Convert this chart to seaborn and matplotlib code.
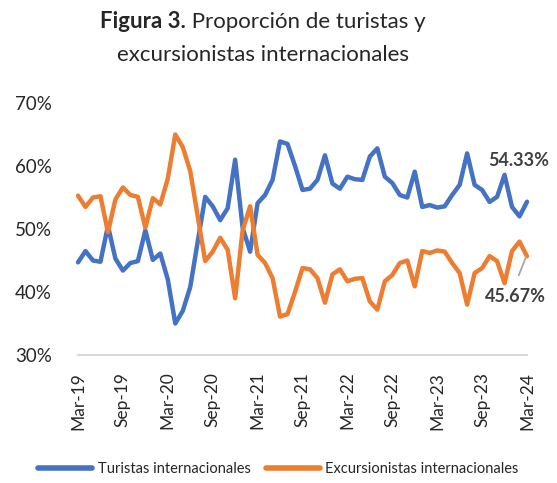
import numpy as np
import pandas as pd
import seaborn as sns
import matplotlib
matplotlib.use('Agg')
import matplotlib.pyplot as plt
from matplotlib.transforms import ScaledTranslation

# monthly shares, Mar-19 .. Mar-24
turistas = [44.7, 46.5, 45.0, 44.8, 50.5, 45.3, 43.4, 44.6, 44.9, 49.8,
            45.1, 46.1, 42.0, 35.0, 37.0, 40.8, 48.0, 55.1, 53.6, 51.4,
            53.3, 61.0, 50.2, 46.4, 54.1, 55.4, 57.8, 63.9, 63.5, 60.0,
            56.2, 56.4, 57.8, 61.7, 57.2, 56.4, 58.3, 57.9, 57.8, 61.5,
            62.8, 58.3, 57.3, 55.4, 55.0, 59.1, 53.5, 53.8, 53.4, 53.6,
            55.4, 57.0, 62.0, 57.0, 56.2, 54.3, 55.1, 58.6, 53.5, 52.0,
            54.33]
excursionistas = [55.3, 53.5, 55.0, 55.2, 49.5, 54.7, 56.6, 55.4, 55.1, 50.2,
                  54.9, 53.9, 58.0, 65.0, 63.0, 59.2, 52.0, 44.9, 46.4, 48.6,
                  46.7, 39.0, 49.8, 53.6, 45.9, 44.6, 42.2, 36.1, 36.5, 40.0,
                  43.8, 43.6, 42.2, 38.3, 42.8, 43.6, 41.7, 42.1, 42.2, 38.5,
                  37.2, 41.7, 42.7, 44.6, 45.0, 40.9, 46.5, 46.2, 46.6, 46.4,
                  44.6, 43.0, 38.0, 43.0, 43.8, 45.7, 44.9, 41.4, 46.5, 48.0,
                  45.67]
tick_labels = ['Mar-19', 'Sep-19', 'Mar-20', 'Sep-20', 'Mar-21', 'Sep-21',
               'Mar-22', 'Sep-22', 'Mar-23', 'Sep-23', 'Mar-24']
series_names = ['Turistas internacionales', 'Excursionistas internacionales']

n = len(turistas)
df = pd.DataFrame({
    'mes': list(range(n)) * 2,
    'valor': np.array(turistas + excursionistas) / 100.0,
    'serie': [series_names[0]] * n + [series_names[1]] * n,
})

sns.set_style('white')
plt.rcParams['font.family'] = ['Lato', 'DejaVu Sans']

fig = plt.figure(figsize=(5.57, 4.83), dpi=100)
ax = fig.add_axes([78/557, 1 - 355/483, (527-78)/557, (355-103)/483])

sns.lineplot(data=df, x='mes', y='valor', hue='serie',
             palette=['#4472C4', '#ED7D31'], linewidth=3.2, ax=ax,
             legend=True)
for ln in ax.lines:
    ln.set_solid_capstyle('round')
    ln.set_solid_joinstyle('round')
    ln.set_clip_on(False)

ax.set_xlim(0, n - 1)
ax.set_ylim(0.30, 0.70)
ax.set_yticks([0.3, 0.4, 0.5, 0.6, 0.7])
ax.set_yticklabels(['30%', '40%', '50%', '60%', '70%'], fontsize=13.5, color='#262626')
ax.set_xticks(list(range(0, n, 6)))
ax.set_xticklabels(tick_labels, rotation=90, fontsize=12.5, color='#262626')
offset = ScaledTranslation(6/72, 0, fig.dpi_scale_trans)
for lab in ax.get_xticklabels():
    lab.set_transform(lab.get_transform() + offset)
ax.tick_params(axis='y', length=0, pad=19)
ax.tick_params(axis='x', length=0, pad=12)
ax.set_xlabel('')
ax.set_ylabel('')
sns.despine(ax=ax, left=True)
ax.spines['bottom'].set_color('#d9d9d9')
ax.spines['bottom'].set_linewidth(1.5)

# end labels
fig.text(519/557, 1 - 161/483, '54.33%', ha='center', va='center',
         fontsize=13, fontweight='bold', color='#404040')
fig.text(515/557, 1 - 297/483, '45.67%', ha='center', va='center',
         fontsize=13, fontweight='bold', color='#404040')
ax.plot([n - 2.1, n - 1.15], [0.4265, 0.455], color='#a6a6a6', lw=1.3, clip_on=False)

leg = ax.legend(loc='lower center', bbox_to_anchor=(0.5, -0.012),
                bbox_transform=fig.transFigure, ncol=2, frameon=False,
                fontsize=10.5, handlelength=3.7, columnspacing=1.0,
                handletextpad=0.4)
for h in leg.get_lines():
    h.set_linewidth(4)
    h.set_solid_capstyle('round')

# title with bold prefix
title_cx = 263
fig.canvas.draw()
r = fig.canvas.get_renderer()
t1 = fig.text(0, 1 - 22/483, 'Figura 3.', fontsize=16, fontweight='bold', va='center')
t2 = fig.text(0, 1 - 22/483, ' Proporción de turistas y', fontsize=16, va='center')
w1 = t1.get_window_extent(r).width
w2 = t2.get_window_extent(r).width
x0 = title_cx - (w1 + w2) / 2
t1.set_x(x0 / 557)
t2.set_x((x0 + w1) / 557)
fig.text(title_cx / 557, 1 - 55/483, 'excursionistas internacionales', fontsize=16,
         ha='center', va='center')

fig.savefig('out.png', dpi=100)
